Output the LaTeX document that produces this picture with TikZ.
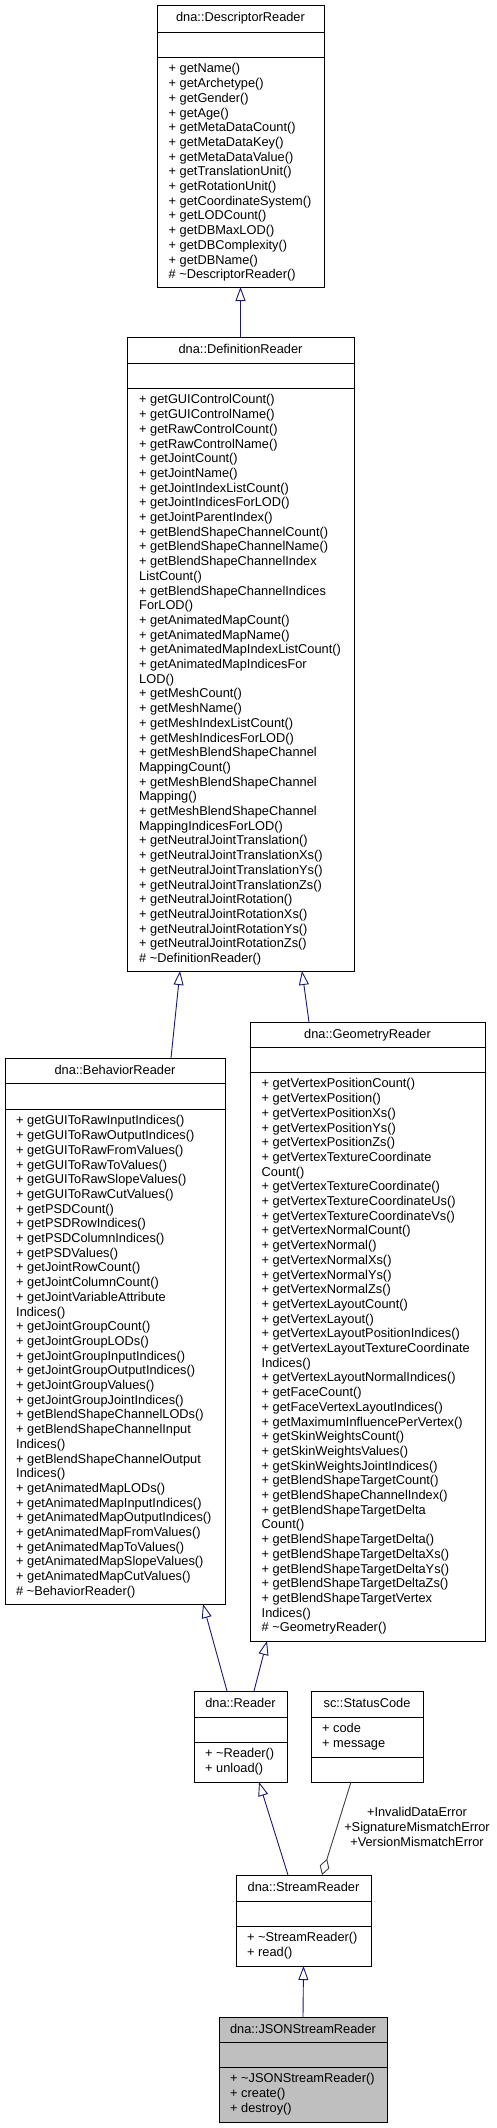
\documentclass[tikz,border=0pt]{standalone}
\usepackage{fontspec}
\setmainfont{Liberation Sans}
\usetikzlibrary{arrows.meta}
\definecolor{midnightblue}{RGB}{25,25,112}
\definecolor{grey25}{RGB}{64,64,64}
\definecolor{grey75}{RGB}{191,191,191}
\newcommand{\firstline}{\rule{0pt}{15.7pt}}

\begin{document}
\begin{tikzpicture}[x=1pt,y=-1pt,
  font=\fontsize{12.8}{14.7}\selectfont,
  classbox/.style={draw=black,line width=1pt,fill=white,anchor=north west,inner sep=0pt,outer sep=0pt},
  classname/.style={anchor=base,inner sep=0pt},
  members/.style={anchor=north west,inner sep=0pt,align=left},
  inherit/.style={midnightblue,line width=0.9pt,-{Triangle[open,length=14pt,width=10pt]}},
  aggregate/.style={grey25,line width=0.9pt,-{Diamond[open,length=17pt,width=10pt]}}]
    \useasboundingbox (0,0) rectangle (497,2128);

    % DescriptorReader
    \node[classbox,minimum width=167pt,minimum height=282pt] (desc) at (157,5) {};
    \draw (desc.north west) ++(0,27) -- ++(167,0) (desc.north west) ++(0,52) -- ++(167,0);
    \path (desc.north) ++(0,16.8) node[classname] (desc-name) {dna::DescriptorReader};
    \path (desc.north west) ++(11.5,52) node[members] (desc-ops) {\firstline+ getName()\\+ getArchetype()\\+ getGender()\\+ getAge()\\+ getMetaDataCount()\\+ getMetaDataKey()\\+ getMetaDataValue()\\+ getTranslationUnit()\\+ getRotationUnit()\\+ getCoordinateSystem()\\+ getLODCount()\\+ getDBMaxLOD()\\+ getDBComplexity()\\+ getDBName()\\\# \textasciitilde DescriptorReader()};

    % DefinitionReader
    \node[classbox,minimum width=227pt,minimum height=634pt] (def) at (127,337) {};
    \draw (def.north west) ++(0,26) -- ++(227,0) (def.north west) ++(0,51) -- ++(227,0);
    \path (def.north) ++(0,16.3) node[classname] (def-name) {dna::DefinitionReader};
    \path (def.north west) ++(12,51) node[members] (def-ops) {\firstline+ getGUIControlCount()\\+ getGUIControlName()\\+ getRawControlCount()\\+ getRawControlName()\\+ getJointCount()\\+ getJointName()\\+ getJointIndexListCount()\\+ getJointIndicesForLOD()\\+ getJointParentIndex()\\+ getBlendShapeChannelCount()\\+ getBlendShapeChannelName()\\+ getBlendShapeChannelIndex\\ListCount()\\+ getBlendShapeChannelIndices\\ForLOD()\\+ getAnimatedMapCount()\\+ getAnimatedMapName()\\+ getAnimatedMapIndexListCount()\\+ getAnimatedMapIndicesFor\\LOD()\\+ getMeshCount()\\+ getMeshName()\\+ getMeshIndexListCount()\\+ getMeshIndicesForLOD()\\+ getMeshBlendShapeChannel\\MappingCount()\\+ getMeshBlendShapeChannel\\Mapping()\\+ getMeshBlendShapeChannel\\MappingIndicesForLOD()\\+ getNeutralJointTranslation()\\+ getNeutralJointTranslationXs()\\+ getNeutralJointTranslationYs()\\+ getNeutralJointTranslationZs()\\+ getNeutralJointRotation()\\+ getNeutralJointRotationXs()\\+ getNeutralJointRotationYs()\\+ getNeutralJointRotationZs()\\\# \textasciitilde DefinitionReader()};

    % BehaviorReader
    \node[classbox,minimum width=220pt,minimum height=546pt] (beh) at (5,1058) {};
    \draw (beh.north west) ++(0,25) -- ++(220,0) (beh.north west) ++(0,51) -- ++(220,0);
    \path (beh.north) ++(0,16.5) node[classname] (beh-name) {dna::BehaviorReader};
    \path (beh.north west) ++(11,51) node[members] (beh-ops) {\firstline+ getGUIToRawInputIndices()\\+ getGUIToRawOutputIndices()\\+ getGUIToRawFromValues()\\+ getGUIToRawToValues()\\+ getGUIToRawSlopeValues()\\+ getGUIToRawCutValues()\\+ getPSDCount()\\+ getPSDRowIndices()\\+ getPSDColumnIndices()\\+ getPSDValues()\\+ getJointRowCount()\\+ getJointColumnCount()\\+ getJointVariableAttribute\\Indices()\\+ getJointGroupCount()\\+ getJointGroupLODs()\\+ getJointGroupInputIndices()\\+ getJointGroupOutputIndices()\\+ getJointGroupValues()\\+ getJointGroupJointIndices()\\+ getBlendShapeChannelLODs()\\+ getBlendShapeChannelInput\\Indices()\\+ getBlendShapeChannelOutput\\Indices()\\+ getAnimatedMapLODs()\\+ getAnimatedMapInputIndices()\\+ getAnimatedMapOutputIndices()\\+ getAnimatedMapFromValues()\\+ getAnimatedMapToValues()\\+ getAnimatedMapSlopeValues()\\+ getAnimatedMapCutValues()\\\# \textasciitilde BehaviorReader()};

    % GeometryReader
    \node[classbox,minimum width=235pt,minimum height=619pt] (geo) at (250,1022) {};
    \draw (geo.north west) ++(0,25) -- ++(235,0) (geo.north west) ++(0,50) -- ++(235,0);
    \path (geo.north) ++(0,16.3) node[classname] (geo-name) {dna::GeometryReader};
    \path (geo.north west) ++(11.5,50) node[members] (geo-ops) {\firstline+ getVertexPositionCount()\\+ getVertexPosition()\\+ getVertexPositionXs()\\+ getVertexPositionYs()\\+ getVertexPositionZs()\\+ getVertexTextureCoordinate\\Count()\\+ getVertexTextureCoordinate()\\+ getVertexTextureCoordinateUs()\\+ getVertexTextureCoordinateVs()\\+ getVertexNormalCount()\\+ getVertexNormal()\\+ getVertexNormalXs()\\+ getVertexNormalYs()\\+ getVertexNormalZs()\\+ getVertexLayoutCount()\\+ getVertexLayout()\\+ getVertexLayoutPositionIndices()\\+ getVertexLayoutTextureCoordinate\\Indices()\\+ getVertexLayoutNormalIndices()\\+ getFaceCount()\\+ getFaceVertexLayoutIndices()\\+ getMaximumInfluencePerVertex()\\+ getSkinWeightsCount()\\+ getSkinWeightsValues()\\+ getSkinWeightsJointIndices()\\+ getBlendShapeTargetCount()\\+ getBlendShapeChannelIndex()\\+ getBlendShapeTargetDelta\\Count()\\+ getBlendShapeTargetDelta()\\+ getBlendShapeTargetDeltaXs()\\+ getBlendShapeTargetDeltaYs()\\+ getBlendShapeTargetDeltaZs()\\+ getBlendShapeTargetVertex\\Indices()\\\# \textasciitilde GeometryReader()};

    % Reader
    \node[classbox,minimum width=93pt,minimum height=91pt] (reader) at (194,1691) {};
    \draw (reader.north west) ++(0,26) -- ++(93,0) (reader.north west) ++(0,51) -- ++(93,0);
    \path (reader.north) ++(0,16) node[classname] (reader-name) {dna::Reader};
    \path (reader.north west) ++(11,51) node[members] (reader-ops) {\firstline+ \textasciitilde Reader()\\+ unload()};

    % StatusCode
    \node[classbox,minimum width=112pt,minimum height=91pt] (status) at (311,1691) {};
    \draw (status.north west) ++(0,26) -- ++(112,0) (status.north west) ++(0,66) -- ++(112,0);
    \path (status.north) ++(0,16) node[classname] (status-name) {sc::StatusCode};
    \path (status.north west) ++(11,26) node[members] (status-attrs) {\firstline+ code\\+ message};

    % StreamReader
    \node[classbox,minimum width=135pt,minimum height=91pt] (stream) at (236,1875) {};
    \draw (stream.north west) ++(0,26) -- ++(135,0) (stream.north west) ++(0,51) -- ++(135,0);
    \path (stream.north) ++(0,16) node[classname] (stream-name) {dna::StreamReader};
    \path (stream.north west) ++(11,51) node[members] (stream-ops) {\firstline+ \textasciitilde StreamReader()\\+ read()};

    % JSONStreamReader
    \node[classbox,fill=grey75,minimum width=168pt,minimum height=105pt] (json) at (219,2017) {};
    \draw (json.north west) ++(0,25) -- ++(168,0) (json.north west) ++(0,50) -- ++(168,0);
    \path (json.north) ++(0,16) node[classname] (json-name) {dna::JSONStreamReader};
    \path (json.north west) ++(11,50) node[members] (json-ops) {\firstline+ \textasciitilde JSONStreamReader()\\+ create()\\+ destroy()};

    % inheritance
    \draw[inherit] (def.north) -- (desc.south);
    \draw[inherit] ([xshift=166pt]beh.north west) -- ([xshift=53pt]def.south west);
    \draw[inherit] ([xshift=59pt]geo.north west) -- ([xshift=175pt]def.south west);
    \draw[inherit] ([xshift=33pt]reader.north west) -- ([xshift=198pt]beh.south west);
    \draw[inherit] ([xshift=60pt]reader.north west) -- ([xshift=17pt]geo.south west);
    \draw[inherit] ([xshift=52pt]stream.north west) -- ([xshift=65pt]reader.south west);
    \draw[inherit] (json.north) -- (stream.south);

    % usage
    \draw[aggregate] ([xshift=40pt]status.south west) -- ([xshift=86pt]stream.north west);
    \node[align=center,inner sep=0pt] (errors) at (417,1827) {+InvalidDataError\\+SignatureMismatchError\\+VersionMismatchError};
\end{tikzpicture}
\end{document}
